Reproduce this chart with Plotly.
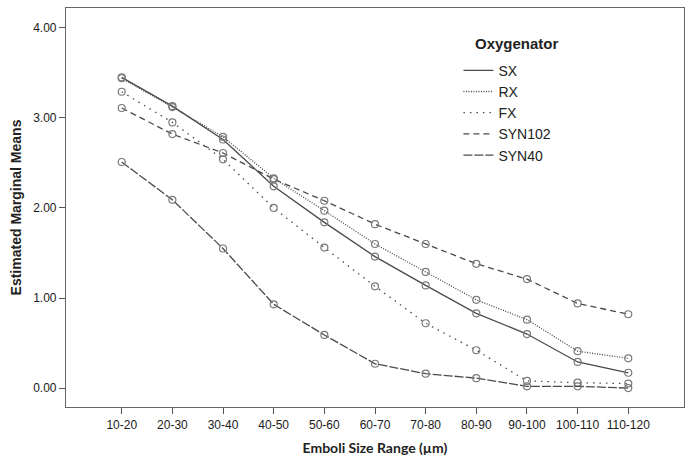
import plotly.graph_objects as go

# Emboli size bins (µm)
size_ranges = ["10-20", "20-30", "30-40", "40-50", "50-60", "60-70",
               "70-80", "80-90", "90-100", "100-110", "110-120"]

# Estimated marginal means per oxygenator
sx = [3.45, 3.13, 2.76, 2.24, 1.84, 1.46, 1.14, 0.83, 0.60, 0.29, 0.17]
rx = [3.44, 3.12, 2.79, 2.33, 1.97, 1.60, 1.29, 0.98, 0.76, 0.41, 0.33]
fx = [3.29, 2.95, 2.54, 2.00, 1.56, 1.13, 0.72, 0.42, 0.08, 0.06, 0.05]
syn102 = [3.11, 2.82, 2.61, 2.32, 2.08, 1.82, 1.60, 1.38, 1.21, 0.94, 0.82]
syn40 = [2.51, 2.09, 1.55, 0.93, 0.59, 0.27, 0.16, 0.11, 0.02, 0.02, 0.00]

series = [
    ("SX", sx, "solid"),
    ("RX", rx, "1px,1.5px"),
    ("FX", fx, "1.5px,5px"),
    ("SYN102", syn102, "6px,4px"),
    ("SYN40", syn40, "9px,2px"),
]

x_idx = list(range(len(size_ranges)))
line_color = "#4a4a4a"

fig = go.Figure()
for name, vals, dash in series:
    # data line with open circle markers
    fig.add_trace(go.Scatter(
        x=x_idx, y=vals, name=name, mode="lines+markers", showlegend=False,
        line=dict(color=line_color, width=1.3, dash=dash),
        marker=dict(symbol="circle-open", size=7, color="#7a7a7a",
                    line=dict(width=1.2, color="#7a7a7a")),
    ))
for name, vals, dash in series:
    # line-only key entry
    fig.add_trace(go.Scatter(
        x=[None], y=[None], name=name, mode="lines",
        line=dict(color=line_color, width=1.3, dash=dash),
    ))

axis_font = dict(family="Liberation Sans, Arial, sans-serif", size=12, color="#1a1a1a")

fig.update_layout(
    width=692, height=460,
    margin=dict(l=66, r=7, t=7, b=51),
    paper_bgcolor="white", plot_bgcolor="white",
    font=dict(family="Liberation Sans, Arial, sans-serif", color="#222"),
    showlegend=True,
    legend=dict(
        x=0.635, xanchor="left", y=0.883, yanchor="top",
        font=dict(family="Liberation Sans, Arial, sans-serif", size=14, color="#222"),
        bgcolor="rgba(0,0,0,0)", tracegroupgap=0,
    ),
    xaxis=dict(
        range=[-1.1, 11.1], tickmode="array", tickvals=x_idx, ticktext=size_ranges,
        ticks="outside", ticklen=6, tickcolor="#555", tickfont=axis_font,
        showgrid=False, zeroline=False,
        showline=True, linecolor="#666", linewidth=1.2, mirror=True,
        title=dict(text="<b>Emboli Size Range (µm)</b>",
                   font=dict(family="Lato, sans-serif", size=14, color="#222"),
                   standoff=12),
    ),
    yaxis=dict(
        range=[-0.21, 4.22], tickvals=[0, 1, 2, 3, 4],
        ticktext=["0.00", "1.00", "2.00", "3.00", "4.00"],
        ticks="outside", ticklen=6, tickcolor="#555", tickfont=axis_font,
        showgrid=False, zeroline=False,
        showline=True, linecolor="#666", linewidth=1.2, mirror=True,
        title=dict(text="<b>Estimated Marginal Means</b>",
                   font=dict(family="Liberation Sans, Arial, sans-serif", size=14, color="#222"),
                   standoff=8),
    ),
    annotations=[dict(
        text="<b>Oxygenator</b>", xref="paper", yref="paper",
        x=(474 - 66) / 619, y=(409 - 43) / 402, xanchor="left", yanchor="middle",
        showarrow=False,
        font=dict(family="Liberation Sans, Arial, sans-serif", size=15, color="#222"),
    )],
)

fig.write_html("out.html")
